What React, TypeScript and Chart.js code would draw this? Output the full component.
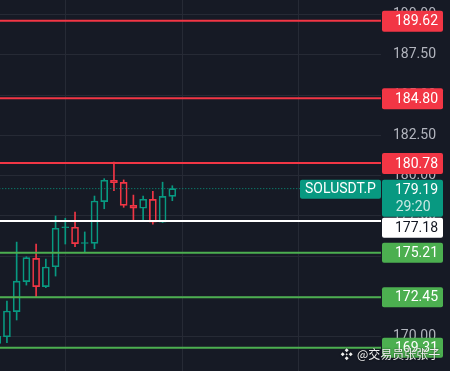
import React, { useEffect, useRef } from 'react';
import { Chart, registerables } from 'chart.js';

Chart.register(...registerables);

// ---- data ----
const candleIndex = [0, 1, 2, 3, 4, 5, 6, 7, 8, 9, 10, 11, 12, 13, 14, 15, 16, 17, 18];
const opens = [169.58, 169.99, 171.55, 173.41, 174.86, 173.10, 174.34, 176.76, 176.79, 175.78, 175.79, 178.38, 179.71, 179.58, 178.15, 177.97, 178.52, 177.10, 178.71];
const closes = [170.02, 171.59, 173.45, 174.90, 173.10, 174.32, 176.73, 176.79, 175.77, 175.80, 178.42, 179.71, 179.56, 178.15, 177.97, 178.53, 177.10, 178.71, 179.19];
const highs = [170.10, 172.21, 175.87, 174.96, 175.75, 174.82, 177.49, 177.35, 177.74, 176.50, 178.73, 179.81, 180.84, 179.73, 178.79, 178.72, 179.03, 179.59, 179.37];
const lows = [169.50, 169.62, 171.03, 173.20, 172.42, 173.04, 173.76, 175.75, 175.58, 175.25, 175.46, 177.94, 179.06, 178.03, 177.15, 177.26, 176.99, 177.08, 178.44];

const resistanceLevels = [189.62, 184.80, 180.78];
const supportLevels = [175.21, 172.45, 169.31];
const entryLevel = 177.18;
const lastPrice = 179.19;
const symbolLabel = 'SOLUSDT.P';
const countdown = '29:20';
const yTicks = [170, 172.5, 175, 177.5, 180, 182.5, 185, 187.5, 190];
const xGridTicks = [7, 19, 31];
const watermark = '@交易员张张子';

// ---- styles ----
const BG = '#161a25';
const GRID = '#262a35';
const UP = '#089981';
const DOWN = '#f23645';
const SUPPORT = '#4caf50';
const X_MIN = 0.288;
const X_MAX = 39.45;
const Y_MIN = 167.863;
const Y_MAX = 190.906;

const levelLine = (v: number, color: string, width: number, dash: number[] = []) => ({
  type: 'line' as const,
  data: [{ x: X_MIN - 1, y: v }, { x: X_MAX + 1, y: v }],
  borderColor: color,
  borderWidth: width,
  borderDash: dash,
  pointRadius: 0,
  order: 0,
  clip: 0,
});

const labelsPlugin = {
  id: 'priceLabels',
  beforeDraw(chart: any) {
    const ctx = chart.ctx;
    ctx.save();
    ctx.fillStyle = BG;
    ctx.fillRect(0, 0, chart.width, chart.height);
    ctx.restore();
  },
  afterDraw(chart: any) {
    const ctx = chart.ctx;
    const ys = chart.scales.y;
    const area = chart.chartArea;
    const bx = area.right + 1;
    const bw = 61;
    const tx = bx + 56;
    ctx.save();
    ctx.font = '14px Roboto';
    ctx.textBaseline = 'middle';

    type Box = { v: number; fill: string; text: string; textColor: string; h: number; two?: boolean };
    const boxes: Box[] = [];
    resistanceLevels.forEach((v) => boxes.push({ v, fill: DOWN, text: v.toFixed(2), textColor: '#ffffff', h: 21 }));
    boxes.push({ v: lastPrice, fill: UP, text: lastPrice.toFixed(2), textColor: '#ffffff', h: 37, two: true });
    boxes.push({ v: entryLevel, fill: '#ffffff', text: entryLevel.toFixed(2), textColor: '#131722', h: 20 });
    supportLevels.forEach((v) => boxes.push({ v, fill: SUPPORT, text: v.toFixed(2), textColor: '#ffffff', h: 20 }));
    boxes.sort((a, b) => b.v - a.v);

    let prevBottom = -Infinity;
    boxes.forEach((b) => {
      const py = ys.getPixelForValue(b.v);
      let top = b.two ? py - 9 : py - 10;
      if (top < prevBottom + 1) top = prevBottom + 1;
      prevBottom = top + b.h;
      ctx.fillStyle = b.fill;
      ctx.beginPath();
      ctx.roundRect(bx, top, bw, b.h, 2);
      ctx.fill();
      ctx.fillStyle = b.textColor;
      ctx.textAlign = 'right';
      if (b.two) {
        ctx.fillText(b.text, tx, top + 10.5);
        ctx.fillStyle = 'rgba(255,255,255,0.78)';
        ctx.fillText(countdown, tx - 7.5, top + 28);
        ctx.fillStyle = UP;
        ctx.beginPath();
        ctx.roundRect(area.right - 81, top, 81, 19, 2);
        ctx.fill();
        ctx.fillStyle = '#ffffff';
        ctx.textAlign = 'center';
        ctx.fillText(symbolLabel, area.right - 40.5, top + 10);
      } else {
        ctx.fillText(b.text, tx, top + b.h / 2 + 0.5);
      }
    });

    // watermark
    const cx = 346.7;
    const cy = 354.3;
    ctx.shadowColor = 'rgba(0,0,0,0.8)';
    ctx.shadowBlur = 2;
    ctx.fillStyle = '#f0f0f0';
    const diamond = (x: number, y: number, r: number) => {
      ctx.beginPath();
      ctx.moveTo(x, y - r);
      ctx.lineTo(x + r, y);
      ctx.lineTo(x, y + r);
      ctx.lineTo(x - r, y);
      ctx.closePath();
      ctx.fill();
    };
    diamond(cx, cy - 4, 2);
    diamond(cx, cy + 4, 2);
    diamond(cx - 4, cy, 2);
    diamond(cx + 4, cy, 2);
    diamond(cx, cy, 1.1);
    ctx.font = '12px "Noto Sans CJK SC", Roboto';
    ctx.textAlign = 'left';
    ctx.fillText(watermark, 357, 354);
    ctx.restore();
  },
};

export default function App() {
  const ref = useRef<HTMLCanvasElement | null>(null);

  useEffect(() => {
    document.body.style.margin = '0';
    document.body.style.background = BG;
    const canvas = ref.current;
    if (!canvas) return;

    const colorOf = (i: number) => (closes[i] >= opens[i] ? UP : DOWN);
    const isDoji = (i: number) => Math.abs(closes[i] - opens[i]) < 0.08;

    const bodies = candleIndex.map((i) => ({ x: i, y: [opens[i], closes[i]] }));
    const upperWicks = candleIndex.map((i) => ({ x: i, y: [Math.max(opens[i], closes[i]), highs[i]] }));
    const lowerWicks = candleIndex.map((i) => ({ x: i, y: [lows[i], Math.min(opens[i], closes[i])] }));

    const chart = new Chart(canvas, {
      type: 'bar',
      data: {
        datasets: [
          ...resistanceLevels.map((v) => levelLine(v, DOWN, 2)),
          levelLine(entryLevel, '#ffffff', 2),
          ...supportLevels.map((v) => levelLine(v, SUPPORT, 2)),
          levelLine(lastPrice, UP, 1, [1, 2]),
          {
            type: 'bar',
            data: upperWicks as any,
            backgroundColor: candleIndex.map(colorOf),
            borderWidth: 0,
            barThickness: 1,
            grouped: false,
            order: 2,
          },
          {
            type: 'bar',
            data: lowerWicks as any,
            backgroundColor: candleIndex.map(colorOf),
            borderWidth: 0,
            barThickness: 1,
            grouped: false,
            order: 2,
          },
          {
            type: 'bar',
            data: bodies as any,
            borderColor: candleIndex.map(colorOf),
            backgroundColor: candleIndex.map((i) => (isDoji(i) ? colorOf(i) : 'rgba(0,0,0,0)')),
            borderWidth: 1,
            borderSkipped: false,
            barThickness: 7,
            minBarLength: 1,
            grouped: false,
            order: 1,
          },
        ] as any,
      },
      options: {
        animation: false,
        responsive: false,
        devicePixelRatio: 1,
        events: [],
        layout: { padding: 0 },
        plugins: { legend: { display: false }, tooltip: { enabled: false } },
        scales: {
          x: {
            type: 'linear',
            offset: false,
            min: X_MIN,
            max: X_MAX,
            grid: { color: GRID, drawTicks: false, offset: false },
            border: { display: false },
            ticks: { display: false },
            afterBuildTicks: (s: any) => {
              s.ticks = xGridTicks.map((v) => ({ value: v }));
            },
            afterFit: (s: any) => {
              s.height = 0;
              s.paddingLeft = 0;
              s.paddingRight = 0;
            },
          },
          y: {
            type: 'linear',
            position: 'right',
            min: Y_MIN,
            max: Y_MAX,
            grid: { color: GRID, drawTicks: false },
            border: { display: false },
            ticks: {
              color: '#b2b5be',
              font: { family: 'Roboto', size: 14 },
              padding: 12,
              crossAlign: 'near',
              callback: (v: any) => Number(v).toFixed(2),
            },
            afterBuildTicks: (s: any) => {
              s.ticks = yTicks.map((v) => ({ value: v }));
            },
            afterFit: (s: any) => {
              s.width = 69;
              s.paddingTop = 0;
              s.paddingBottom = 0;
            },
          },
        },
      } as any,
      plugins: [labelsPlugin],
    });

    return () => chart.destroy();
  }, []);

  return (
    <div style={{ width: 450, height: 371 }}>
      <canvas ref={ref} width={450} height={371} style={{ display: 'block' }} />
    </div>
  );
}
